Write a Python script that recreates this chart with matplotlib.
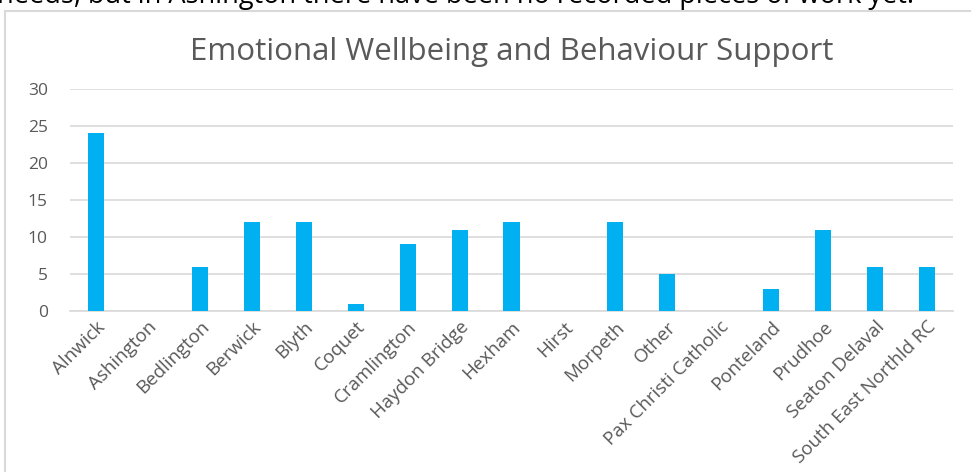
import matplotlib
matplotlib.use("Agg")
import matplotlib.pyplot as plt
from matplotlib.patches import Rectangle

plt.rcParams["font.family"] = ["Open Sans", "DejaVu Sans"]

areas = ["Alnwick", "Ashington", "Bedlington", "Berwick", "Blyth", "Coquet",
         "Cramlington", "Haydon Bridge", "Hexham", "Hirst", "Morpeth", "Other",
         "Pax Christi Catholic", "Ponteland", "Prudhoe", "Seaton Delaval",
         "South East Northld RC"]
counts = [24, 0, 6, 12, 12, 1, 9, 11, 12, 0, 12, 5, 0, 3, 11, 6, 6]
yticks = [0, 5, 10, 15, 20, 25, 30]

W, H = 971, 472
fig = plt.figure(figsize=(W / 100, H / 100), dpi=100)

# clipped line of document text above the chart
fig.text(-0.003, 1 - 3 / H, "needs, but in Ashington there have been no recorded pieces of work yet.",
         fontsize=19.5, color="black", va="baseline", ha="left")

# chart frame (left and top edges visible)
fig.patches.append(Rectangle((5 / W, -0.1), 1.2, 1 - 11 / H + 0.1, transform=fig.transFigure,
                             fill=False, edgecolor="#d9d9d9", lw=1.5))

ax = fig.add_axes([70 / W, 1 - 311 / H, 883 / W, 222 / H])
x = range(len(areas))
ax.bar(x, counts, width=0.31, color="#00B0F0", zorder=3)
ax.set_xlim(-0.5, len(areas) - 0.5)
ax.set_ylim(0, 30)
ax.set_yticks(yticks)
ax.set_xticks(list(x))
ax.set_xticklabels(areas, rotation=45, ha="right", rotation_mode="anchor")
ax.tick_params(axis="both", length=0, labelcolor="#595959")
ax.tick_params(axis="y", pad=16, labelsize=12.5)
ax.tick_params(axis="x", pad=5, labelsize=13.5)
ax.grid(axis="y", color="#d9d9d9", lw=1.2, zorder=0)
for s in ["top", "right", "left"]:
    ax.spines[s].set_visible(False)
ax.spines["bottom"].set_color("#d9d9d9")
ax.spines["bottom"].set_linewidth(1.2)
ax.set_title("Emotional Wellbeing and Behaviour Support", fontsize=22.5,
             color="#595959", pad=21)

fig.savefig("out.png", dpi=100)
